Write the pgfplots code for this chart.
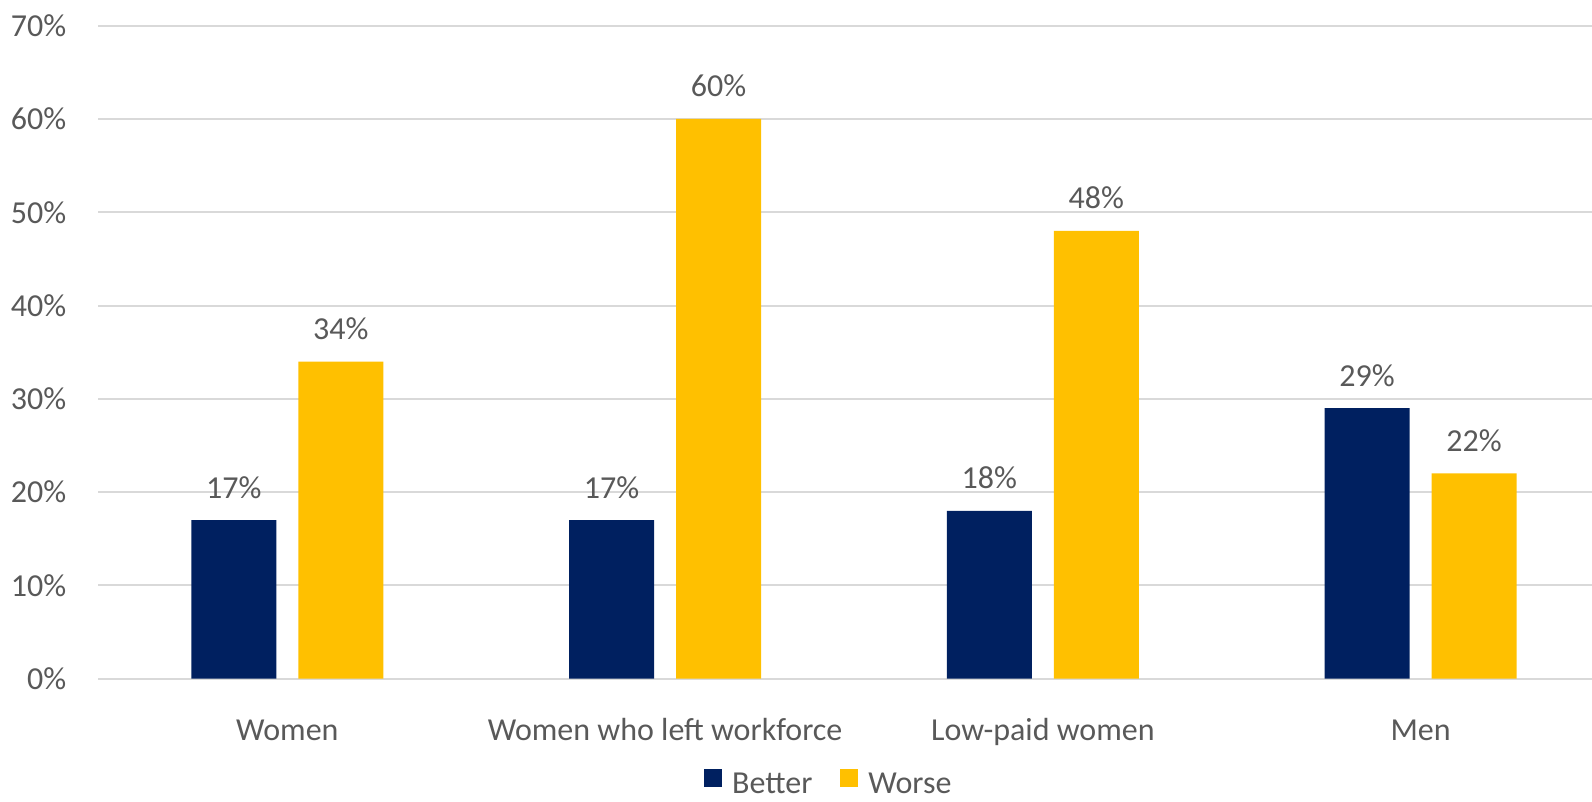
\documentclass[border=0pt]{standalone}
\usepackage{pgfplots}
\pgfplotsset{compat=1.18}
\usepackage{fontspec}
\setmainfont{Carlito}
\definecolor{navy}{HTML}{002060}
\definecolor{gold}{HTML}{FFC000}
\definecolor{txt}{HTML}{595959}
\definecolor{gridc}{HTML}{D9D9D9}
\begin{document}
\begin{tikzpicture}
\path[use as bounding box] (0,0) rectangle (796pt,401pt);
\begin{axis}[
  at={(49.25pt,61.65pt)}, anchor=south west,
  scale only axis, width=755.5pt, height=326.5pt,
  xmin=-0.5, xmax=3.5, ymin=0, ymax=70,
  axis line style={draw=none},
  tick style={draw=none},
  ymajorgrids, grid style={gridc, line width=1pt},
  /pgf/number format/assume math mode=true,
  ytick={0,10,20,30,40,50,60,70},
  yticklabels={0\%,10\%,20\%,30\%,40\%,50\%,60\%,70\%},
  xtick={0,1,2,3},
  xticklabels={Women, Women who left workforce, Low-paid women, Men},
  tick label style={font=\fontsize{16}{19}\selectfont, text=txt},
  yticklabel style={anchor=east, inner sep=0pt, xshift=-15.9pt},
  xticklabel style={anchor=base, inner sep=0pt, yshift=-26.7pt},
  ybar,
  bar width=42.5pt,
  nodes near coords={\pgfmathprintnumber{\pgfplotspointmeta}\%},
  nodes near coords style={anchor=base, inner sep=0pt, yshift=11pt, font=\fontsize{16}{19}\selectfont, text=txt},
  clip=false,
  legend style={at={(0.484,-0.162)}, anchor=center, draw=none, legend columns=2,
    font=\fontsize{16}{19}\selectfont, text=txt, inner sep=1pt,
    /tikz/every odd column/.append style={column sep=3pt},
    /tikz/every even column/.append style={column sep=12pt}},
  legend image code/.code={\fill[#1] (0pt,-1.5pt) rectangle (9pt,7.5pt);},
]
\addplot[fill=navy, draw=none, bar shift=-26.75pt] coordinates {(0,17) (1,17) (2,18) (3,29)};
\addplot[fill=gold, draw=none, bar shift=26.75pt] coordinates {(0,34) (1,60) (2,48) (3,22)};
\legend{Better, Worse}
\end{axis}
\end{tikzpicture}
\end{document}
